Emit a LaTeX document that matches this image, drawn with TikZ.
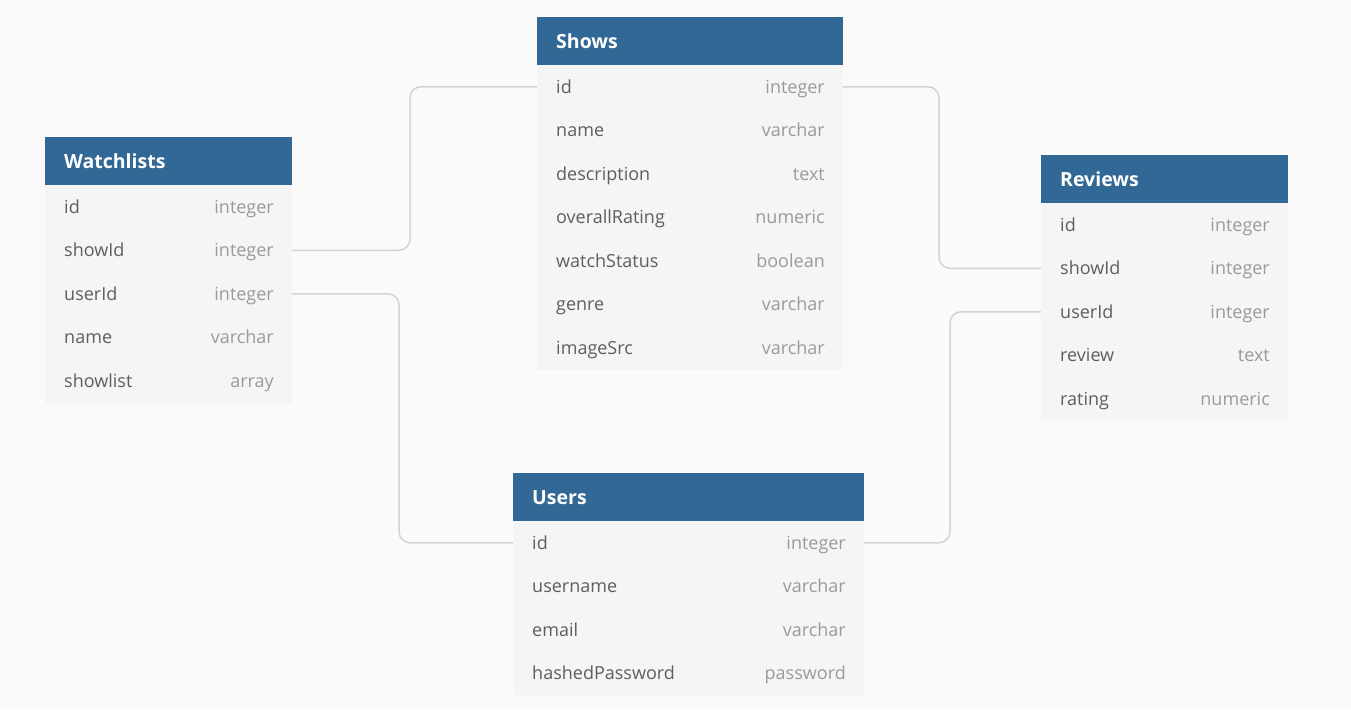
\documentclass[tikz,border=0pt]{standalone}
\usepackage{fontspec}
\setmainfont{Open Sans}
\usetikzlibrary{calc}
\pgfdeclarelayer{bgl}
\pgfdeclarelayer{connl}
\pgfsetlayers{bgl,connl,main}
\definecolor{bg}{HTML}{FAFAFA}
\definecolor{hdrblue}{HTML}{316895}
\definecolor{rowbg}{HTML}{F5F5F5}
\definecolor{namecol}{HTML}{5E5E5E}
\definecolor{typecol}{HTML}{9A9A9A}
\definecolor{linecol}{HTML}{D3D3D3}
\tikzset{
  hdr/.style={draw=none, fill=hdrblue, minimum height=48pt, inner sep=0pt, outer sep=0pt},
  rowbox/.style={draw=none, fill=rowbg, minimum height=43.5pt, inner sep=0pt, outer sep=0pt},
  titletext/.style={text=white, font=\fontsize{19.5}{22}\selectfont\bfseries, anchor=west, inner sep=0pt, text height=14pt, text depth=4pt},
  nametext/.style={text=namecol, font=\fontsize{18}{20}\selectfont, anchor=west, inner sep=0pt, text height=13pt, text depth=4pt},
  typetext/.style={text=typecol, font=\fontsize{18}{20}\selectfont, anchor=east, inner sep=0pt, text height=13pt, text depth=4pt},
  conn/.style={draw=linecol, line width=1.5pt, rounded corners=11pt}
}
\newcommand\erdtable[6]{%
  \node[hdr, minimum width=#4pt, anchor=north west] (#1-h) at (#2,#3) {};
  \node[titletext] (#1-title) at ($(#1-h.west)+(19,2.5)$) {#5};
  \foreach [count=\i] \n/\t in {#6} {
    \node[rowbox, minimum width=#4pt, anchor=north west] (#1-\i) at (#2,{#3+48+(\i-1)*43.5}) {};
    \node[nametext] (#1-\i-n) at ($(#1-\i.west)+(19,2)$) {\n};
    \node[typetext] (#1-\i-t) at ($(#1-\i.east)+(-18,2)$) {\t};
  }%
}
\begin{document}
\begin{tikzpicture}[x=1pt,y=-1pt]
\begin{pgfonlayer}{bgl}
\fill[bg] (0,0) rectangle (1351,709);
\end{pgfonlayer}
\useasboundingbox (0,0) rectangle (1351,709);
% tables
\erdtable{sh}{537}{17}{306}{Shows}{id/integer,name/varchar,description/text,overallRating/numeric,watchStatus/boolean,genre/varchar,imageSrc/varchar}
\erdtable{wl}{45}{137}{247}{Watchlists}{id/integer,showId/integer,userId/integer,name/varchar,showlist/array}
\erdtable{rv}{1041}{155}{247}{Reviews}{id/integer,showId/integer,userId/integer,review/text,rating/numeric}
\erdtable{us}{513}{473}{351}{Users}{id/integer,username/varchar,email/varchar,hashedPassword/password}
% connectors (behind tables)
\coordinate (c1) at (410,0);
\coordinate (c2) at (399,0);
\coordinate (c3) at (939,0);
\coordinate (c4) at (950,0);
\begin{pgfonlayer}{connl}
\draw[conn] (wl-2.east) -- (wl-2.east -| c1) -- (c1 |- sh-1.west) -- (sh-1.west);
\draw[conn] (wl-3.east) -- (wl-3.east -| c2) -- (c2 |- us-1.west) -- (us-1.west);
\draw[conn] (sh-1.east) -- (sh-1.east -| c3) -- (c3 |- rv-2.west) -- (rv-2.west);
\draw[conn] (us-1.east) -- (us-1.east -| c4) -- (c4 |- rv-3.west) -- (rv-3.west);
\end{pgfonlayer}
\end{tikzpicture}
\end{document}
